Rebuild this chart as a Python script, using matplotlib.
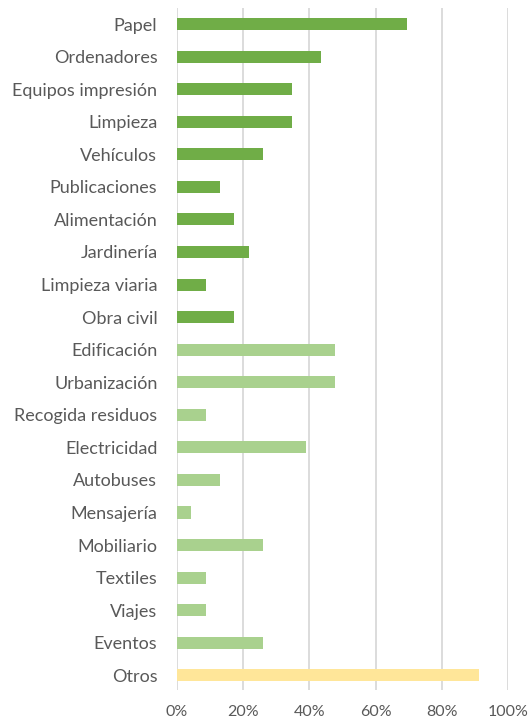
import matplotlib.pyplot as plt
from matplotlib.ticker import PercentFormatter

categories = ["Papel", "Ordenadores", "Equipos impresión", "Limpieza", "Vehículos",
              "Publicaciones", "Alimentación", "Jardinería", "Limpieza viaria", "Obra civil",
              "Edificación", "Urbanización", "Recogida residuos", "Electricidad", "Autobuses",
              "Mensajería", "Mobiliario", "Textiles", "Viajes", "Eventos", "Otros"]
# share of contracts (n out of 23)
counts = [16, 10, 8, 8, 6, 3, 4, 5, 2, 4, 11, 11, 2, 9, 3, 1, 6, 2, 2, 6, 21]
groups = ["a"] * 10 + ["b"] * 10 + ["c"]
values = [c / 23 * 100 for c in counts]

colors = {"a": "#70AD47", "b": "#A9D18E", "c": "#FFE699"}

plt.rcParams['font.family'] = ['Lato', 'DejaVu Sans']

fig = plt.figure(figsize=(5.28, 7.22), dpi=100)
ax = fig.add_axes([0.335, 0.0443, 0.627, 0.945])

ypos = list(range(len(categories)))
ax.barh(ypos, values, height=0.37, color=[colors[g] for g in groups], zorder=3)

ax.set_ylim(20.45, -0.5)
ax.set_xlim(0, 100)
ax.set_yticks(ypos)
ax.set_yticklabels(categories, fontsize=13, color="#595959")
ax.set_xticks(range(0, 101, 20))
ax.xaxis.set_major_formatter(PercentFormatter(decimals=0))
ax.tick_params(axis='x', labelsize=11.5, colors="#595959", length=0, pad=11)
ax.tick_params(axis='y', length=0, pad=14)
ax.grid(axis='x', color="#d9d9d9", linewidth=1.3, zorder=0)
for s in ax.spines.values():
    s.set_visible(False)

fig.savefig("out.png", dpi=100)
